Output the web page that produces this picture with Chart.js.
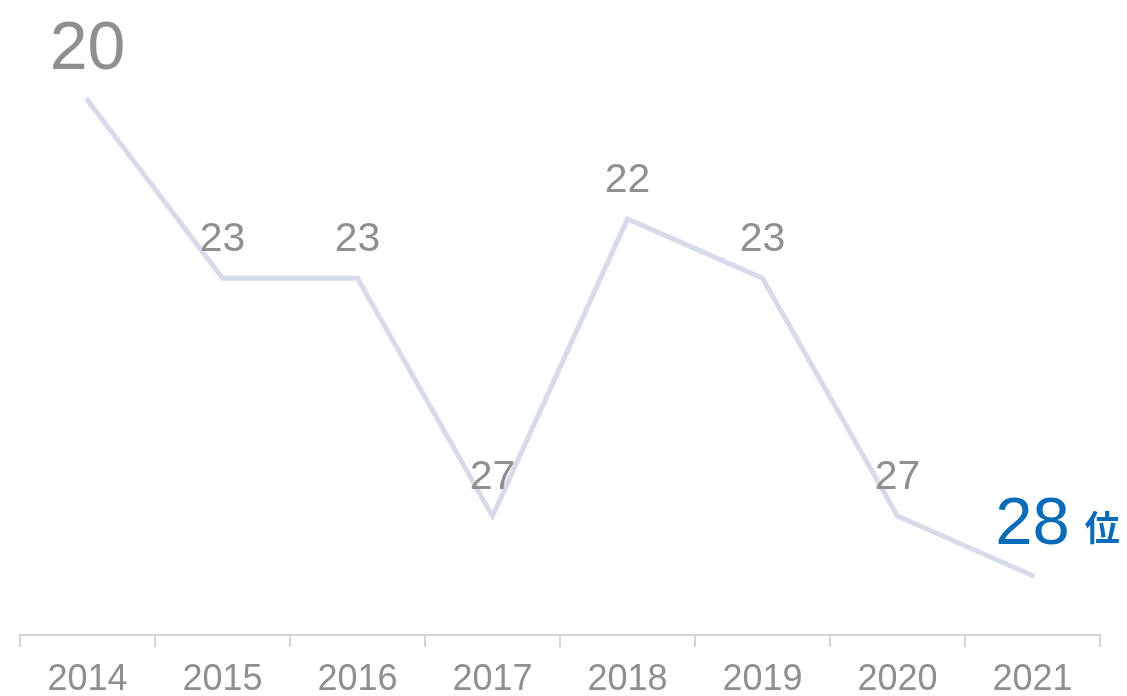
<!DOCTYPE html>
<html>
<head>
<meta charset="utf-8">
<script src="https://cdn.jsdelivr.net/npm/chart.js@4"></script>
<style>
html,body{margin:0;padding:0;background:#fff;}
#wrap{width:1127px;height:696px;position:relative;}
</style>
</head>
<body>
<div id="wrap"><canvas id="c" width="1127" height="696"></canvas></div>
<script>
const categories = ['2014','2015','2016','2017','2018','2019','2020','2021'];
const ranks = [20, 23, 23, 27, 22, 23, 27, 28];
const unitSuffix = '位';

const labelPlugin = {
  id: 'rankLabels',
  afterDatasetsDraw(chart) {
    const ctx = chart.ctx;
    const meta = chart.getDatasetMeta(0);
    const last = meta.data.length - 1;
    ctx.save();
    ctx.textAlign = 'center';
    ctx.textBaseline = 'alphabetic';
    meta.data.forEach((pt, i) => {
      const v = String(ranks[i]);
      if (i === 0) {
        ctx.fillStyle = '#8f8f8f';
        ctx.font = '68px "Liberation Sans", Arial, sans-serif';
        ctx.fillText(v, pt.x, pt.y - 31);
      } else if (i === last) {
        ctx.fillStyle = '#0a6cb8';
        ctx.font = '67px "Liberation Sans", Arial, sans-serif';
        ctx.fillText(v, pt.x, pt.y - 32);
        const w = ctx.measureText(v).width;
        ctx.textAlign = 'left';
        ctx.font = 'bold 35px "Noto Sans CJK JP", sans-serif';
        ctx.fillText(unitSuffix, pt.x + w / 2 + 15, pt.y - 35);
        ctx.textAlign = 'center';
      } else {
        ctx.fillStyle = '#8f8f8f';
        ctx.font = '41px "Liberation Sans", Arial, sans-serif';
        ctx.fillText(v, pt.x, pt.y - 27);
      }
    });
    ctx.restore();
  }
};

new Chart(document.getElementById('c'), {
  type: 'line',
  data: {
    labels: categories,
    datasets: [{
      data: ranks,
      borderColor: '#d7dae9',
      borderWidth: 5,
      borderCapStyle: 'round',
      borderJoinStyle: 'miter',
      tension: 0,
      pointRadius: 0,
      fill: false
    }]
  },
  options: {
    responsive: false,
    animation: false,
    devicePixelRatio: 1,
    layout: { padding: { left: 20, right: 27, top: 40.5, bottom: 0 } },
    plugins: { legend: { display: false }, tooltip: { enabled: false } },
    scales: {
      y: {
        display: false,
        reverse: true,
        min: 19,
        max: 29
      },
      x: {
        offset: true,
        afterFit(scale) { scale.height = 61; },
        grid: {
          offset: true,
          drawOnChartArea: false,
          drawTicks: true,
          tickLength: 12,
          color: '#d4d4d4',
          lineWidth: 2
        },
        border: { display: true, color: '#d4d4d4', width: 2 },
        ticks: {
          color: '#8f8f8f',
          padding: 11,
          font: { family: '"Liberation Sans", Arial, sans-serif', size: 36 }
        }
      }
    }
  },
  plugins: [labelPlugin]
});
</script>
</body>
</html>
